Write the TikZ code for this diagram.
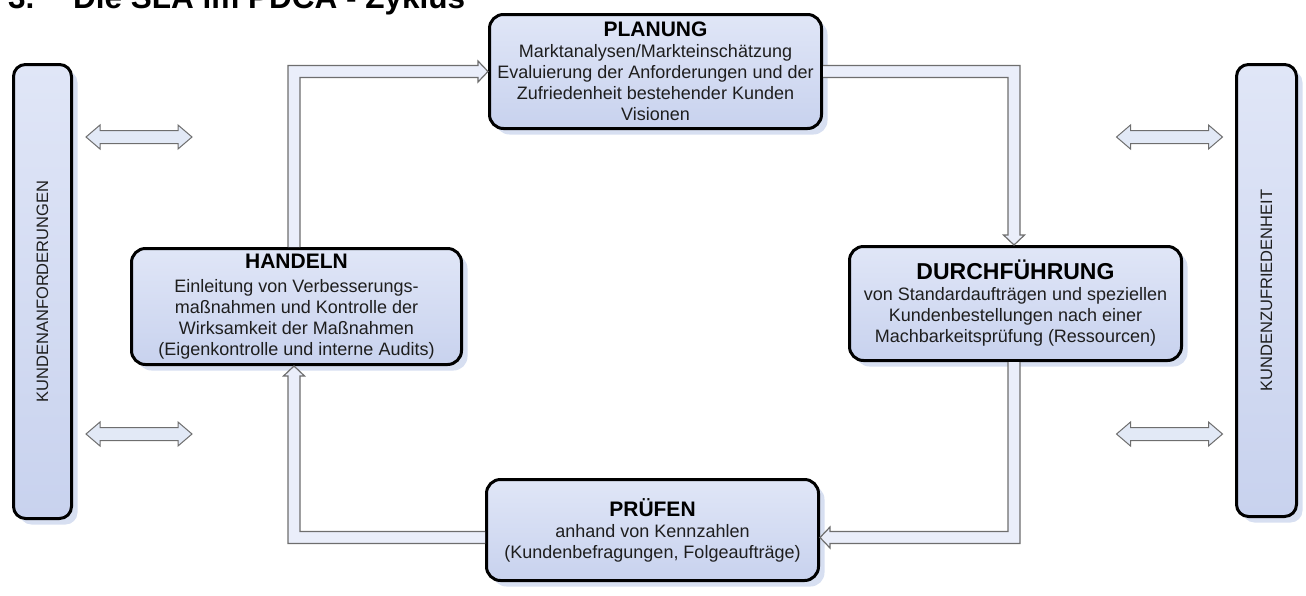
\documentclass[tikz,border=0pt]{standalone}
\usepackage{fontspec}
\setmainfont{Liberation Sans}
\usepackage{graphicx}
\usetikzlibrary{calc,shadows}
\definecolor{boxtop}{RGB}{224,230,247}
\definecolor{boxbot}{RGB}{200,210,238}
\definecolor{shadowc}{RGB}{208,217,238}
\definecolor{arrfill}{RGB}{234,238,250}
\definecolor{dblfill}{RGB}{226,233,246}
\definecolor{arrline}{RGB}{110,110,110}
\definecolor{txt}{RGB}{30,30,30}
\tikzset{
  pdcabox/.style={draw=black, line width=3pt, rounded corners=14pt,
    top color=boxtop, bottom color=boxbot, inner sep=0pt, align=center,
    text=txt, font=\fontsize{18}{21}\selectfont,
    drop shadow={shadow xshift=6pt, shadow yshift=-6pt, fill=shadowc, opacity=0.85}},
  sidebar/.style={pdcabox, rounded corners=12pt, font=\fontsize{16.5}{19}\selectfont},
  blockarrow/.style={fill=arrfill, draw=arrline, line width=1.2pt, line join=miter},
  sidearrow/.style={fill=dblfill, draw=arrline, line width=1pt, line join=miter},
}
\newcommand{\ttl}[1]{{\color{black}\bfseries\fontsize{21}{24}\selectfont #1}}
\newcommand{\dblarrow}[2]{%
  \draw[sidearrow] (#1-53,#2) -- (#1-39,#2-12) -- (#1-39,#2-6.5) -- (#1+39,#2-6.5)
    -- (#1+39,#2-12) -- (#1+53,#2) -- (#1+39,#2+12) -- (#1+39,#2+6.5)
    -- (#1-39,#2+6.5) -- (#1-39,#2+12) -- cycle;}
\begin{document}
\begin{tikzpicture}[x=1pt,y=-1pt]
\useasboundingbox (0,0) rectangle (1306,595);
% title (cut off at the top)
\node[anchor=base west, inner sep=0pt, font=\bfseries\fontsize{31.5}{36}\selectfont] (title) at (8,8)
  {\makebox[65pt][l]{3.}Die SLA im PDCA - Zyklus};
% side bars
\node[sidebar, minimum width=58pt, minimum height=454pt] (ka) at (42.5,291.5)
  {\rotatebox{90}{KUNDENANFORDERUNGEN}};
\node[sidebar, minimum width=60pt, minimum height=452pt] (kz) at (1266.5,290.5)
  {\rotatebox{90}{KUNDENZUFRIEDENHEIT}};
% PDCA boxes
\node[pdcabox, minimum width=332pt, minimum height=114pt] (plan) at (655.5,71.5)
  {\ttl{PLANUNG}\\Marktanalysen/Markteinschätzung\\Evaluierung der Anforderungen und der\\Zufriedenheit bestehender Kunden\\Visionen};
\node[pdcabox, minimum width=330pt, minimum height=116pt] (hand) at (296.5,306.5)
  {\ttl{HANDELN}\\[3pt]Einleitung von Verbesserungs-\\maßnahmen und Kontrolle der\\Wirksamkeit der Maßnahmen\\(Eigenkontrolle und interne Audits)};
\node[pdcabox, minimum width=332pt, minimum height=114pt] (durch) at (1015.5,303.5)
  {{\color{black}\bfseries\fontsize{23}{26}\selectfont DURCHFÜHRUNG}\\von Standardaufträgen und speziellen\\Kundenbestellungen nach einer\\Machbarkeitsprüfung (Ressourcen)};
\node[pdcabox, minimum width=332pt, minimum height=101pt] (pruef) at (652.5,530)
  {\ttl{PRÜFEN}\\anhand von Kennzahlen\\(Kundenbefragungen, Folgeaufträge)};
% cycle connectors
\draw[blockarrow] let \p1=(hand.north), \p2=(plan.west) in
  ({\x1-2.5pt+6pt},\y1) -- ({\x1-2.5pt+6pt},{\y2-6pt}) -- ({\x2-10pt},{\y2-6pt})
  -- ({\x2-10pt},{\y2-10.5pt}) -- (\x2,\y2) -- ({\x2-10pt},{\y2+10.5pt})
  -- ({\x2-10pt},{\y2+6pt}) -- ({\x1-2.5pt-6pt},{\y2+6pt}) -- ({\x1-2.5pt-6pt},\y1);
\draw[blockarrow] let \p1=(plan.east), \p2=(durch.north) in
  (\x1,{\y1+6pt}) -- ({\x2-1.5pt+6pt},{\y1+6pt}) -- ({\x2-1.5pt+6pt},{\y2+10pt})
  -- ({\x2-1.5pt+10.5pt},{\y2+10pt}) -- ({\x2-1.5pt},\y2) -- ({\x2-1.5pt-10.5pt},{\y2+10pt})
  -- ({\x2-1.5pt-6pt},{\y2+10pt}) -- ({\x2-1.5pt-6pt},{\y1-6pt}) -- (\x1,{\y1-6pt});
\draw[blockarrow] let \p1=(durch.south), \p2=(pruef.east) in
  ({\x1-1.5pt+6pt},\y1) -- ({\x1-1.5pt+6pt},{\y2-7.5pt-6pt}) -- ({\x2+10pt},{\y2-7.5pt-6pt})
  -- ({\x2+10pt},{\y2-7.5pt-10.5pt}) -- (\x2,{\y2-7.5pt}) -- ({\x2+10pt},{\y2-7.5pt+10.5pt})
  -- ({\x2+10pt},{\y2-7.5pt+6pt}) -- ({\x1-1.5pt-6pt},{\y2-7.5pt+6pt}) -- ({\x1-1.5pt-6pt},\y1);
\draw[blockarrow] let \p1=(pruef.west), \p2=(hand.south) in
  (\x1,{\y1-7.5pt-6pt}) -- ({\x2-2.5pt-6pt},{\y1-7.5pt-6pt}) -- ({\x2-2.5pt-6pt},{\y2-10pt})
  -- ({\x2-2.5pt-10.5pt},{\y2-10pt}) -- ({\x2-2.5pt},\y2) -- ({\x2-2.5pt+10.5pt},{\y2-10pt})
  -- ({\x2-2.5pt+6pt},{\y2-10pt}) -- ({\x2-2.5pt+6pt},{\y1-7.5pt+6pt}) -- (\x1,{\y1-7.5pt+6pt});
% double arrows beside the bars
\dblarrow{139}{137}
\dblarrow{139}{434}
\dblarrow{1169.5}{137}
\dblarrow{1169.5}{434}
\end{tikzpicture}
\end{document}
